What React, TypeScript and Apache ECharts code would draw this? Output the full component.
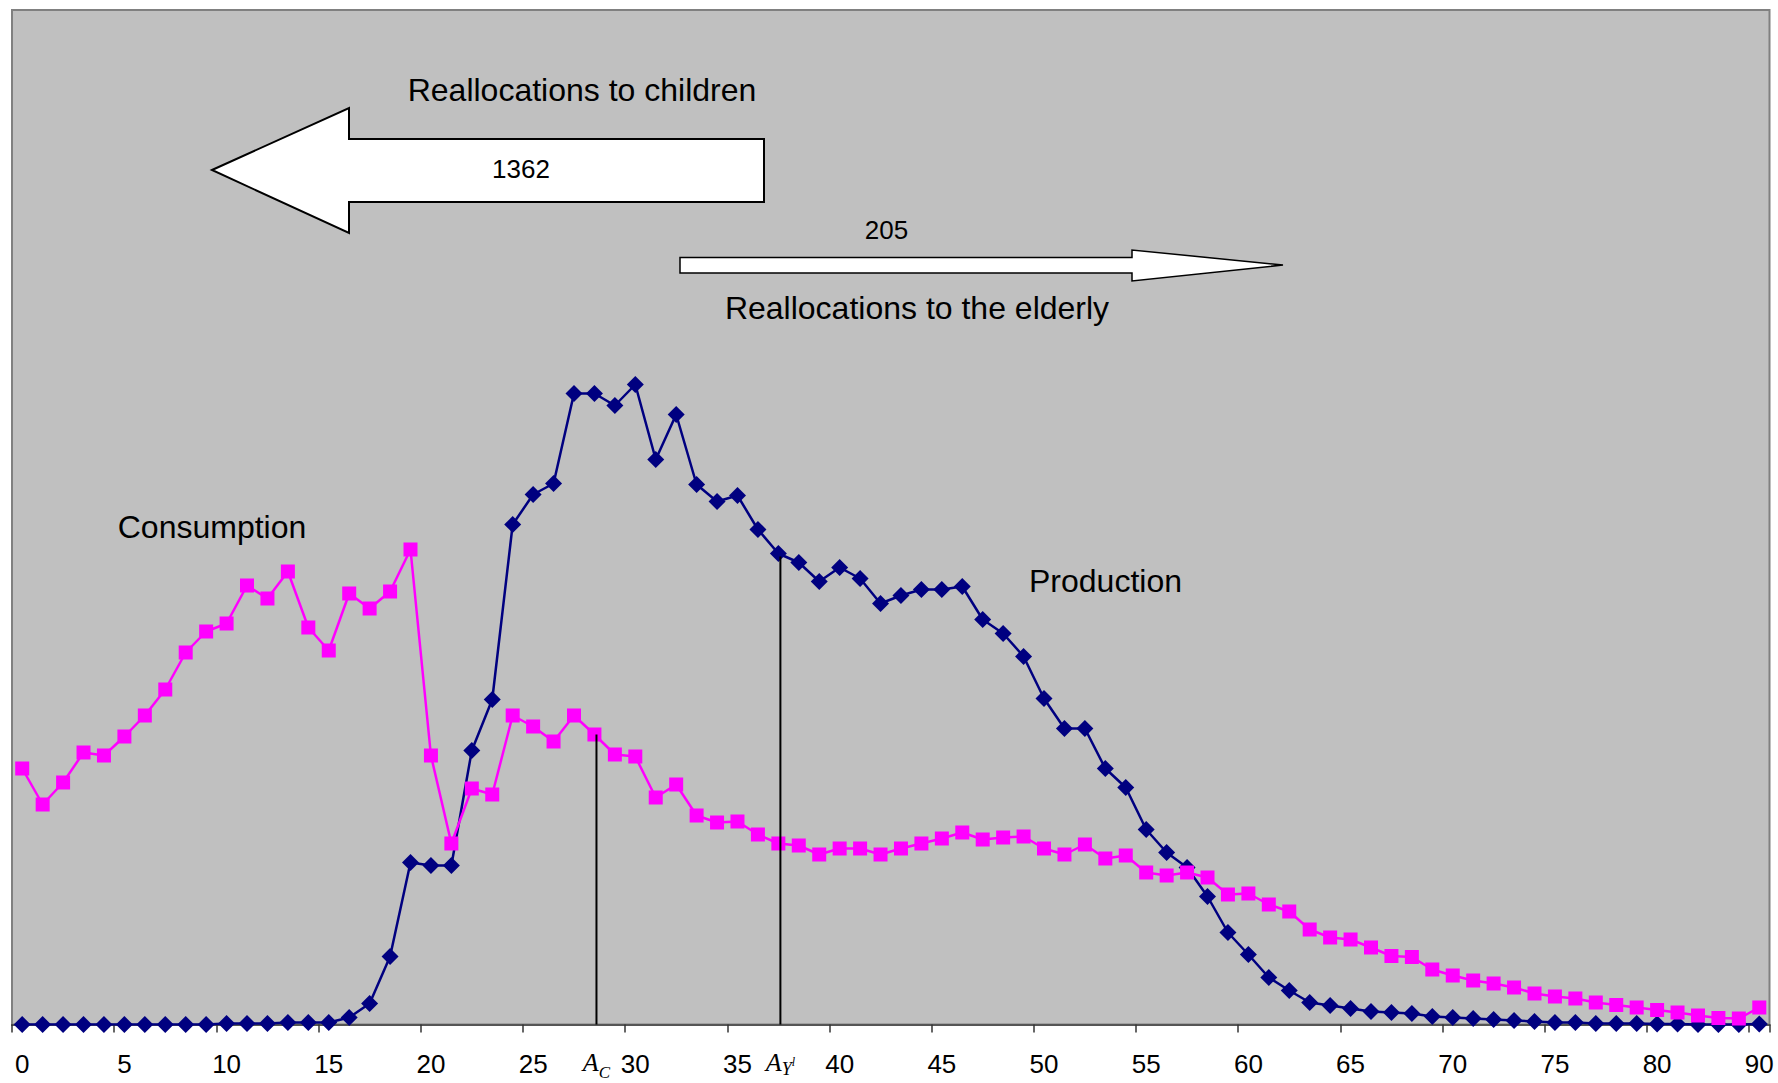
import React, { useEffect, useRef } from "react";
import * as echarts from "echarts";

// ---- data ----
const ages = [
  "0", "1", "2", "3", "4", "5", "6", "7", "8", "9",
  "10", "11", "12", "13", "14", "15", "16", "17", "18", "19",
  "20", "21", "22", "23", "24", "25", "26", "27", "28", "29",
  "30", "31", "32", "33", "34", "35", "36", "37", "38", "39",
  "40", "41", "42", "43", "44", "45", "46", "47", "48", "49",
  "50", "51", "52", "53", "54", "55", "56", "57", "58", "59",
  "60", "61", "62", "63", "64", "65", "66", "67", "68", "69",
  "70", "71", "72", "73", "74", "75", "76", "77", "78", "79",
  "80", "81", "82", "83", "84", "90",
];

const production = [
  0, 0, 0, 0, 0, 0, 0, 0, 0, 0,
  1, 1, 1, 2, 2, 2, 7, 21, 68, 162,
  159, 159, 274, 325, 500, 530, 541, 631, 631, 619,
  640, 565, 610, 540, 523, 529, 495, 471, 462, 443,
  457, 446, 421, 429, 435, 435, 438, 405, 391, 368,
  326, 296, 296, 256, 237, 195, 172, 157, 128, 92,
  70, 47, 34, 22, 19, 16, 13, 12, 11, 8,
  7, 6, 5, 4, 3, 2, 2, 1, 1, 1,
  0.5, 0.5, 0, 0, 0, 0.5,
];

const consumption = [
  256, 220, 242, 272, 269, 288, 309, 335, 372, 393,
  401, 439, 426, 453, 397, 374, 431, 416, 433, 475,
  269, 181, 236, 230, 309, 298, 283, 309, 290, 270,
  268, 227, 240, 209, 202, 203, 190, 181, 179, 170,
  176, 176, 170, 176, 181, 186, 192, 185, 187, 188,
  176, 170, 180, 166, 169, 152, 149, 152, 147, 130,
  131, 120, 113, 95, 87, 85, 77, 68.5, 67.5, 55,
  49, 44, 41, 37, 31, 28, 26, 22, 19.5, 17,
  14.5, 12, 9, 6.5, 6, 17,
];

// mean ages (in category units) and the heights their markers reach
const meanAgeConsumption = [28.1, 290];
const meanAgeLabour = [37.1, 468];

const flowToChildren = "1362";
const flowToElderly = "205";

// ---- layout (pixels) ----
const arrowToChildren = [
  [212, 170], [349, 108], [349, 139], [764, 139], [764, 202], [349, 202], [349, 233],
];
const arrowToElderly = [
  [680, 257.5], [1132, 257.5], [1132, 250], [1283, 265], [1132, 281], [1132, 273], [680, 273],
];
const notes = [
  { text: "Reallocations to children", x: 582, y: 90, size: 32 },
  { text: flowToChildren, x: 521, y: 169, size: 26 },
  { text: flowToElderly, x: 886.5, y: 230, size: 26 },
  { text: "Reallocations to the elderly", x: 917, y: 308, size: 32 },
  { text: "Consumption", x: 212, y: 527, size: 32 },
  { text: "Production", x: 1105.5, y: 581, size: 32 },
];

const SANS = "Liberation Sans";
const SERIF = "Liberation Serif";

export default function App() {
  const ref = useRef<HTMLDivElement>(null);

  useEffect(() => {
    const chart = echarts.init(ref.current!, null, { renderer: "svg" });

    const serifItalic = (size: number, padTop: number) => ({
      fontFamily: SERIF,
      fontStyle: "italic",
      fontSize: size,
      lineHeight: size,
      verticalAlign: "top",
      padding: [padTop, 0, 0, 0],
      color: "#000",
    });

    const meanLine = (pt: number[], formatter: string) => ({
      type: "line",
      xAxisIndex: 1,
      yAxisIndex: 0,
      silent: true,
      symbol: "circle",
      symbolSize: 0,
      showSymbol: true,
      z: 4,
      lineStyle: { color: "#000", width: 2 },
      itemStyle: { color: "#000" },
      data: [
        {
          value: [pt[0], 0],
          label: {
            show: true,
            position: "bottom",
            distance: 25,
            formatter,
            rich: {
              a: serifItalic(26, 0),
              s: serifItalic(17, 14),
              y: serifItalic(18, 10),
              l: serifItalic(12, 6),
            },
          },
        },
        { value: [pt[0], pt[1]] },
      ],
    });

    const graphics: any[] = [
      {
        type: "polygon",
        z: 100,
        shape: { points: arrowToChildren },
        style: { fill: "#ffffff", stroke: "#000000", lineWidth: 2 },
      },
      {
        type: "polygon",
        z: 100,
        shape: { points: arrowToElderly },
        style: { fill: "#ffffff", stroke: "#000000", lineWidth: 1.5 },
      },
      ...notes.map((n) => ({
        type: "text",
        z: 101,
        x: n.x,
        y: n.y,
        style: {
          text: n.text,
          fill: "#000",
          fontFamily: SANS,
          fontSize: n.size,
          align: "center",
          verticalAlign: "middle",
          textAlign: "center",
          textVerticalAlign: "middle",
        },
      })),
    ];

    chart.setOption({
      animation: false,
      backgroundColor: "#ffffff",
      textStyle: { fontFamily: SANS },
      grid: {
        left: 12,
        right: 8.5,
        top: 10,
        bottom: 58.5,
        show: true,
        backgroundColor: "#C0C0C0",
        borderColor: "#808080",
        borderWidth: 2,
      },
      xAxis: [
        {
          type: "category",
          data: ages,
          boundaryGap: true,
          axisLine: { show: true, lineStyle: { color: "#555555", width: 2 } },
          axisTick: {
            show: true,
            interval: 4,
            length: 8,
            lineStyle: { color: "#333333", width: 1.5 },
          },
          axisLabel: {
            interval: 4,
            margin: 26,
            fontSize: 26,
            color: "#000",
            fontFamily: SANS,
          },
          splitLine: { show: false },
        },
        { type: "value", min: -0.5, max: 85.5, show: false },
      ],
      yAxis: {
        type: "value",
        min: 0,
        max: 1014.5,
        show: false,
        splitLine: { show: false },
      },
      series: [
        {
          name: "Production",
          type: "line",
          data: production,
          symbol: "diamond",
          symbolSize: 17,
          showAllSymbol: true,
          z: 2,
          itemStyle: { color: "#000080" },
          lineStyle: { color: "#000080", width: 2.5 },
        },
        {
          name: "Consumption",
          type: "line",
          data: consumption,
          symbol: "rect",
          symbolSize: 14,
          showAllSymbol: true,
          z: 3,
          itemStyle: { color: "#FF00FF" },
          lineStyle: { color: "#FF00FF", width: 2.5 },
        },
        meanLine(meanAgeConsumption, "{a|A}{s|C}"),
        meanLine(meanAgeLabour, "{a|A}{y|Y}{l|l}"),
      ],
      graphic: graphics,
    });

    return () => chart.dispose();
  }, []);

  return (
    <div
      ref={ref}
      style={{
        position: "fixed",
        left: 0,
        top: 0,
        width: 1778,
        height: 1083,
        background: "#ffffff",
      }}
    />
  );
}
